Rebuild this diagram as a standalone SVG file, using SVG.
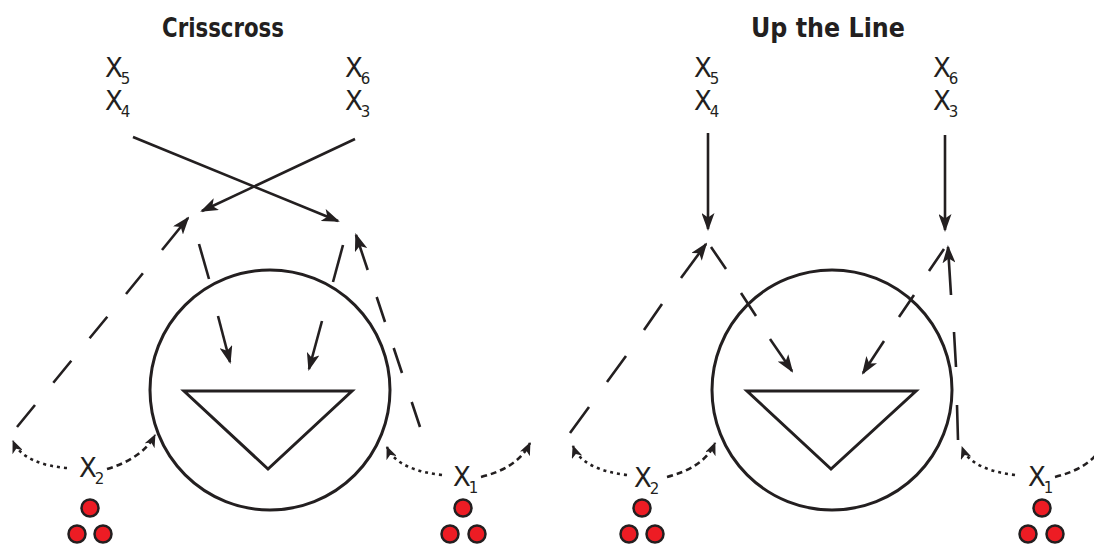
<svg xmlns="http://www.w3.org/2000/svg" width="1094" height="545" viewBox="0 0 1094 545">
  <style>
    .ln{stroke:#231f20;stroke-width:2.6;fill:none;stroke-linecap:butt}
    .ring{stroke:#231f20;stroke-width:3;fill:none}
    .tri{stroke:#231f20;stroke-width:3;fill:none;stroke-linejoin:miter}
    .dot{fill:#ed1c24;stroke:#231f20;stroke-width:2.5}
    .lbl{font-family:"DejaVu Sans","Liberation Sans",sans-serif;font-size:26px;fill:#231f20}
    .sub{font-size:15px}
    .ttl{font-family:"DejaVu Sans","Liberation Sans",sans-serif;font-weight:bold;font-size:26px;fill:#231f20}
    .dotted{stroke-dasharray:3 4}
    .dashed{stroke-dasharray:6 4}
  </style>
  <defs>
    <marker id="ah" viewBox="0 0 18 13" refX="16" refY="6.5" markerWidth="18" markerHeight="13" markerUnits="userSpaceOnUse" orient="auto">
      <path d="M0,0 L18,6.5 L0,13 L4.5,6.5 z" fill="#231f20"/>
    </marker>
    <marker id="ahs" viewBox="0 0 13 11" refX="12" refY="5.5" markerWidth="13" markerHeight="11" markerUnits="userSpaceOnUse" orient="auto">
      <path d="M0,0 L13,5.5 L0,11 L3.5,5.5 z" fill="#231f20"/>
    </marker>
  </defs>
  <rect width="1094" height="545" fill="#fff"/>

  <!-- ===== Crisscross panel ===== -->
  <g id="title-crisscross"><text class="ttl" x="223" y="37" text-anchor="middle" textLength="122" lengthAdjust="spacingAndGlyphs">Crisscross</text></g>
  <g id="cc-x5"><text class="lbl" x="105" y="77">X<tspan class="sub" dx="-2" dy="7">5</tspan></text></g>
  <g id="cc-x4"><text class="lbl" x="105" y="110">X<tspan class="sub" dx="-2" dy="7">4</tspan></text></g>
  <g id="cc-x6"><text class="lbl" x="345" y="77">X<tspan class="sub" dx="-2" dy="7">6</tspan></text></g>
  <g id="cc-x3"><text class="lbl" x="345" y="110">X<tspan class="sub" dx="-2" dy="7">3</tspan></text></g>
  <g id="cc-hoop">
    <circle class="ring" cx="270" cy="390" r="120"/>
    <polygon class="tri" points="184,391 352,391 268,469"/>
  </g>
  <g id="cc-x2"><text class="lbl" x="79" y="477">X<tspan class="sub" dx="-2" dy="7">2</tspan></text></g>
  <g id="cc-x1"><text class="lbl" x="453" y="486">X<tspan class="sub" dx="-2" dy="7">1</tspan></text></g>
  <g id="cc-team-left">
    <circle class="dot" cx="90" cy="508" r="8.5"/>
    <circle class="dot" cx="77" cy="534" r="8.5"/>
    <circle class="dot" cx="103" cy="534" r="8.5"/>
  </g>
  <g id="cc-team-right">
    <circle class="dot" cx="463" cy="508" r="8.5"/>
    <circle class="dot" cx="450" cy="534" r="8.5"/>
    <circle class="dot" cx="477" cy="534" r="8.5"/>
  </g>

  <!-- ===== Up the Line panel ===== -->
  <g id="title-upline"><text class="ttl" x="828" y="37" text-anchor="middle" textLength="154" lengthAdjust="spacingAndGlyphs">Up the Line</text></g>
  <g id="ul-x5"><text class="lbl" x="694" y="77">X<tspan class="sub" dx="-2" dy="7">5</tspan></text></g>
  <g id="ul-x4"><text class="lbl" x="694" y="110">X<tspan class="sub" dx="-2" dy="7">4</tspan></text></g>
  <g id="ul-x6"><text class="lbl" x="933" y="77">X<tspan class="sub" dx="-2" dy="7">6</tspan></text></g>
  <g id="ul-x3"><text class="lbl" x="933" y="110">X<tspan class="sub" dx="-2" dy="7">3</tspan></text></g>
  <g id="ul-hoop">
    <circle class="ring" cx="832" cy="390" r="120"/>
    <polygon class="tri" points="747,391 916,391 831,469"/>
  </g>
  <g id="ul-x2"><text class="lbl" x="634" y="487">X<tspan class="sub" dx="-2" dy="7">2</tspan></text></g>
  <g id="ul-x1"><text class="lbl" x="1028" y="486">X<tspan class="sub" dx="-2" dy="7">1</tspan></text></g>
  <g id="ul-team-left">
    <circle class="dot" cx="642" cy="508" r="8.5"/>
    <circle class="dot" cx="629" cy="534" r="8.5"/>
    <circle class="dot" cx="655" cy="534" r="8.5"/>
  </g>
  <g id="ul-team-right">
    <circle class="dot" cx="1042" cy="508" r="8.5"/>
    <circle class="dot" cx="1028" cy="534" r="8.5"/>
    <circle class="dot" cx="1055" cy="534" r="8.5"/>
  </g>

  <!-- ===== connectors ===== -->
  <g id="connectors">
    <!-- crisscross passes -->
    <path class="ln" d="M133,137 L338,221" marker-end="url(#ah)"/>
    <path class="ln" d="M355,139 L202,211" marker-end="url(#ah)"/>
    <!-- crisscross left cut -->
    <path class="ln" d="M17,427 L35,405 M53.3,382.7 L71.3,360.7 M89.6,338.3 L107.3,316.7 M126,294 L142.9,273.3"/>
    <path class="ln" d="M162,250 L188,218" marker-end="url(#ah)"/>
    <!-- crisscross right cut -->
    <path class="ln" d="M420,427 L411.7,402 M402,373 L393.7,348 M385,322 L376.7,297"/>
    <path class="ln" d="M367.7,270 L356,235" marker-end="url(#ah)"/>
    <!-- crisscross drives to the hoop -->
    <path class="ln" d="M199,244 L209,279"/>
    <path class="ln" d="M218,316 L230,362" marker-end="url(#ah)"/>
    <path class="ln" d="M343,245 L333,282"/>
    <path class="ln" d="M322,321 L309,369" marker-end="url(#ah)"/>
    <!-- crisscross X2 / X1 options -->
    <path class="ln dotted" d="M67,468 C42,466 20,458 13,441" marker-end="url(#ahs)"/>
    <path class="ln dashed" d="M107,469 C128,463 147,451 155,435" marker-end="url(#ahs)"/>
    <path class="ln dotted" d="M442,475 C416,472 394,464 387,447" marker-end="url(#ahs)"/>
    <path class="ln dashed" d="M481,477 C505,471 522,460 530,443" marker-end="url(#ahs)"/>

    <!-- up the line passes -->
    <path class="ln" d="M708,133 L708,229" marker-end="url(#ah)"/>
    <path class="ln" d="M945,135 L945,230" marker-end="url(#ah)"/>
    <!-- up the line left cut -->
    <path class="ln" d="M570,433 L589,407 M607,382 L626,356 M644,330 L662,304"/>
    <path class="ln" d="M681,278 L706,244" marker-end="url(#ah)"/>
    <path class="ln" d="M711,247 L726,269 M741,293 L756,316"/>
    <path class="ln" d="M770,339 L792,371" marker-end="url(#ah)"/>
    <!-- up the line right cut -->
    <path class="ln" d="M958,440 L957,405 M956,367 L954,332"/>
    <path class="ln" d="M951,295 L948,247" marker-end="url(#ah)"/>
    <path class="ln" d="M944,249 L929,271 M914,295 L899,317"/>
    <path class="ln" d="M884,341 L863,373" marker-end="url(#ah)"/>
    <!-- up the line X2 / X1 options -->
    <path class="ln dotted" d="M627,475 C601,472 579,463 573,446" marker-end="url(#ahs)"/>
    <path class="ln dashed" d="M667,477 C690,471 708,460 715,443" marker-end="url(#ahs)"/>
    <path class="ln dotted" d="M1015,475 C990,472 968,464 962,447" marker-end="url(#ahs)"/>
    <path class="ln dashed" d="M1055,477 C1079,471 1096,460 1104,443" marker-end="url(#ahs)"/>
  </g>
</svg>
